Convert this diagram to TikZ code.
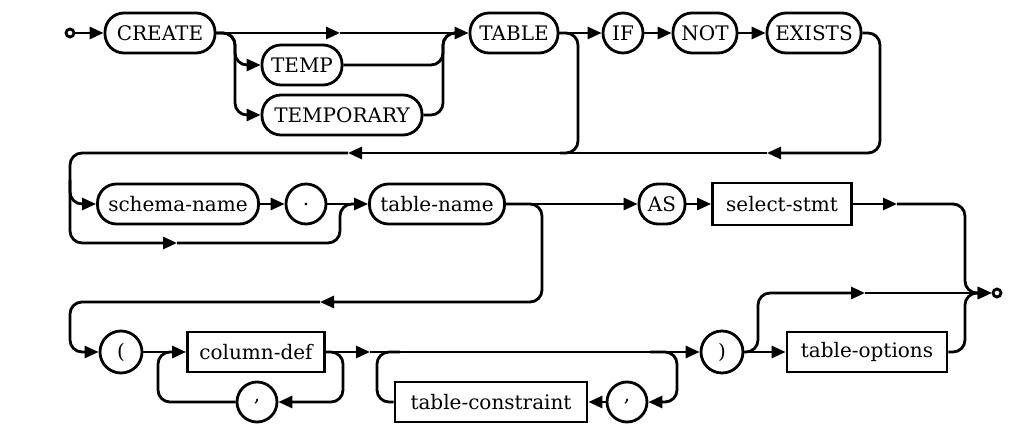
\documentclass[tikz,border=0pt]{standalone}
\usepackage{fontspec}
\setmainfont{DejaVu Serif}
\newfontfamily\railfont{DejaVu Serif}
\usetikzlibrary{arrows.meta,positioning}

\begin{document}
\begin{tikzpicture}[x=1pt, y=-1pt, line width=2.8pt,
    rail/.style={rounded corners=12pt},
    tip/.style={-{Triangle[length=14pt,width=12pt]}},
    term/.style={draw, rounded corners=19pt, minimum height=40pt, inner sep=0pt,
                 font=\railfont\fontsize{20}{24}\selectfont},
    nterm/.style={draw, minimum height=40pt, inner sep=0pt,
                  font=\railfont\fontsize{20}{24}\selectfont},
    punct/.style={draw, circle, minimum size=40pt, inner sep=0pt,
                  font=\railfont\fontsize{20}{24}\selectfont},
    endpt/.style={draw, circle, minimum size=8pt, inner sep=0pt}
]
    \useasboundingbox (0,0) rectangle (1018,438);

    % row 1
    \node[endpt] (start) at (70,33) {};
    \node[term, minimum width=110pt] (create) at (160,33) {CREATE};
    \node[term, minimum width=80pt] (temp) at (302,65) {TEMP};
    \node[term, minimum width=160pt] (temporary) at (342,115) {TEMPORARY};
    \node[term, minimum width=88pt] (table) at (514,33) {TABLE};
    \node[punct] (if) at (623,33) {IF};
    \node[term, minimum width=64pt] (not) at (705,33) {NOT};
    \node[term, minimum width=94pt] (exists) at (814,33) {EXISTS};

    % row 2
    \node[term, minimum width=161pt] (schema) at (178,204) {schema-name};
    \node[punct] (period) at (306,204) {.};
    \node[term, minimum width=135pt] (tname) at (437,204) {table-name};
    \node[term, minimum width=46pt] (as) at (662,204) {AS};
    \node[nterm, minimum width=139pt, minimum height=42pt] (select) at (782,204) {select-stmt};

    % row 3
    \node[punct, minimum size=42pt] (lpar) at (121,352) {(};
    \node[nterm, minimum width=137pt] (coldef) at (256,352) {column-def};
    \node[punct] (comma1) at (257,402) {,};
    \node[nterm, minimum width=192pt] (tcons) at (491,402) {table-constraint};
    \node[punct] (comma2) at (627,402) {,};
    \node[punct, minimum size=42pt] (rpar) at (722,352) {)};
    \node[nterm, minimum width=160pt] (topts) at (867,352) {table-options};
    \node[endpt] (stop) at (997,293) {};

    \coordinate (a1) at (340,33);
    \coordinate (a2) at (767,153);
    \coordinate (a3) at (348,153);
    \coordinate (a4) at (177,243);
    \coordinate (a5) at (320,302);
    \coordinate (a6) at (897,204);
    \coordinate (a7) at (370,352);
    \coordinate (a8) at (865,293);

    % row 1 connectors
    \draw[tip] (start) -- (create);
    \draw[tip] (create.east) -- (a1);
    \draw[tip] (a1) -- (table.west);
    \draw[rail,tip] (create.east) -- (235,33) |- (temp.west);
    \draw[rail,tip] (create.east) -- (235,33) |- (temporary.west);
    \draw[rail] (temp.east) -| (443,33) -- (458,33);
    \draw[rail] (temporary.east) -| (443,33) -- (458,33);
    \draw[tip] (table) -- (if);
    \draw[tip] (if) -- (not);
    \draw[tip] (not) -- (exists);
    \draw[rail,tip] (exists.east) -| (880,153) -- (a2);
    \draw[tip] (a2) -- (a3);
    \draw[rail] (table.east) -| (578,153) -- (560,153);

    % row 2 connectors
    \draw[rail,tip] (a3) -| (70,243) -- (a4);
    \draw[rail,tip] (70,180) |- (schema.west);
    \draw[tip] (schema) -- (period);
    \draw[rail] (a4) -| (340,204) -- (355,204);
    \draw[tip] (period.east) -- (tname.west);
    \draw[tip] (tname) -- (as);
    \draw[tip] (as) -- (select);
    \draw[tip] (select.east) -- (a6);
    \draw[rail,tip] (a6) -| (965,293) -- (stop.west);
    \draw[rail,tip] (tname.east) -| (542,302) -- (a5);
    \draw[rail,tip] (a5) -| (70,352) -- (lpar.west);

    % row 3 connectors
    \draw[tip] (lpar) -- (coldef);
    \draw[rail,tip] (coldef.east) -| (343,402) -- (comma1.east);
    \draw[rail] (comma1.west) -| (158,352) -- (175,352);
    \draw[tip] (coldef.east) -- (a7);
    \draw[tip] (a7) -- (rpar.west);
    \draw[rail,tip] (650,352) -| (677,402) -- (comma2.east);
    \draw[tip] (comma2) -- (tcons);
    \draw[rail] (tcons.west) -| (377,352) -- (400,352);
    \draw[rail,tip] (rpar.east) -| (758,293) -- (a8);
    \draw[tip] (a8) -- (stop.west);
    \draw[tip] (rpar) -- (topts);
    \draw[rail] (topts.east) -| (965,293) -- (980,293);
\end{tikzpicture}
\end{document}
